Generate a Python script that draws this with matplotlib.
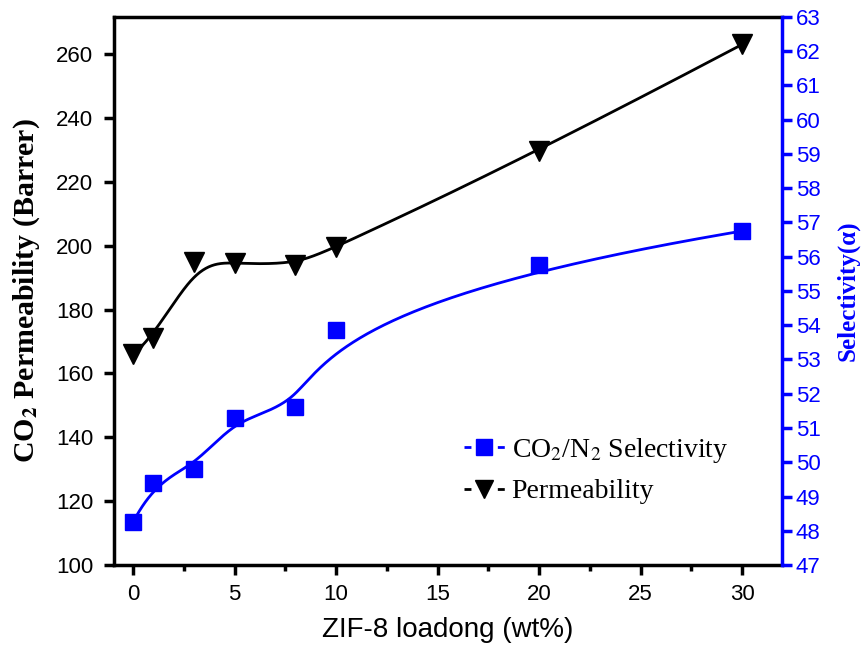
import numpy as np
import matplotlib
matplotlib.use('Agg')
import matplotlib.pyplot as plt
from matplotlib.lines import Line2D

# ZIF-8 loading (wt%)
loading = [0, 1, 3, 5, 8, 10, 20, 30]
# CO2 permeability (Barrer)
permeability = [166, 171, 195, 194.5, 194, 199.5, 229.5, 263]
# CO2/N2 selectivity
selectivity = [48.25, 49.4, 49.8, 51.3, 51.6, 53.85, 55.75, 56.75]


def bspline(xs, ys, n=400, k=3):
    # clamped B-spline with the data points as control points (Origin style)
    pts = np.column_stack([xs, ys]).astype(float)
    m = len(pts)
    knots = np.concatenate([np.zeros(k), np.arange(m - k + 1), np.full(k, m - k)]).astype(float)
    ts = np.linspace(0, m - k, n)
    out = []
    for t in ts:
        i = np.searchsorted(knots, t, side='right') - 1
        i = min(max(i, k), m - 1)
        d = [pts[j + i - k].copy() for j in range(k + 1)]
        for r in range(1, k + 1):
            for j in range(k, r - 1, -1):
                a = (t - knots[j + i - k]) / (knots[j + 1 + i - r] - knots[j + i - k])
                d[j] = (1 - a) * d[j - 1] + a * d[j]
        out.append(d[k])
    out = np.array(out)
    return out[:, 0], out[:, 1]


plt.rcParams['mathtext.fontset'] = 'stix'

fig = plt.figure(figsize=(8.63, 6.51), dpi=100)
ax = fig.add_axes([0.1321, 0.1321, 0.7741, 0.8418])
ax2 = ax.twinx()

bx, by = bspline(loading, permeability)
ax.plot(bx, by, color='black', lw=2)
ax.plot(loading, permeability, 'v', color='black', ms=14, ls='none')

sx, sy = bspline(loading, selectivity)
ax2.plot(sx, sy, color='blue', lw=2)
ax2.plot(loading, selectivity, 's', color='blue', ms=11, ls='none')

ax.set_xlim(-0.94, 31.97)
ax.set_ylim(100, 271.6)
ax2.set_ylim(47, 63)
ax.set_xticks([0, 5, 10, 15, 20, 25, 30])
ax.set_xticks(np.arange(2.5, 30, 5), minor=True)
ax.set_yticks(np.arange(100, 261, 20))
ax2.set_yticks(np.arange(47, 64, 1))

tickfont = 'Liberation Sans'
ax.tick_params(axis='both', which='major', direction='out', length=7, width=2.5,
               labelsize=16, labelfontfamily=tickfont)
ax.tick_params(axis='x', which='minor', direction='out', length=4, width=2.5)
ax.tick_params(axis='x', pad=7)
ax.tick_params(axis='y', pad=8)
ax2.tick_params(axis='y', which='major', direction='out', length=7, width=2.5, colors='blue', pad=3,
                labelsize=16, labelfontfamily=tickfont)

for s in ['left', 'bottom', 'top']:
    ax.spines[s].set_linewidth(2.5)
ax.spines['right'].set_visible(False)
for s in ['left', 'bottom', 'top']:
    ax2.spines[s].set_visible(False)
ax2.spines['right'].set_linewidth(2.5)
ax2.spines['right'].set_color('blue')

ax.set_xlabel('ZIF-8 loadong (wt%)', family=tickfont, fontsize=20, labelpad=8)
ax.set_ylabel(r'CO$_\mathbf{2}$ Permeability (Barrer)', family='Liberation Serif',
              fontweight='bold', fontsize=21.5, labelpad=10)
ax2.set_ylabel('Selectivity(α)', family='Liberation Serif', fontweight='bold',
               fontsize=18, color='blue', labelpad=11)

handles = [
    Line2D([], [], color='blue', ls=(0, (2.5, 9.5)), lw=2, marker='s', ms=11),
    Line2D([], [], color='black', ls=(0, (2.5, 9.5)), lw=2, marker='v', ms=13),
]
leg = ax.legend(handles, [r'CO$_2$/N$_2$ Selectivity', 'Permeability'],
                loc='upper left', bbox_to_anchor=(0.487, 0.281), frameon=False,
                prop={'family': 'Liberation Serif', 'size': 20},
                handlelength=1.45, handletextpad=0.25, labelspacing=0.5)

plt.savefig('out.png', dpi=100)
